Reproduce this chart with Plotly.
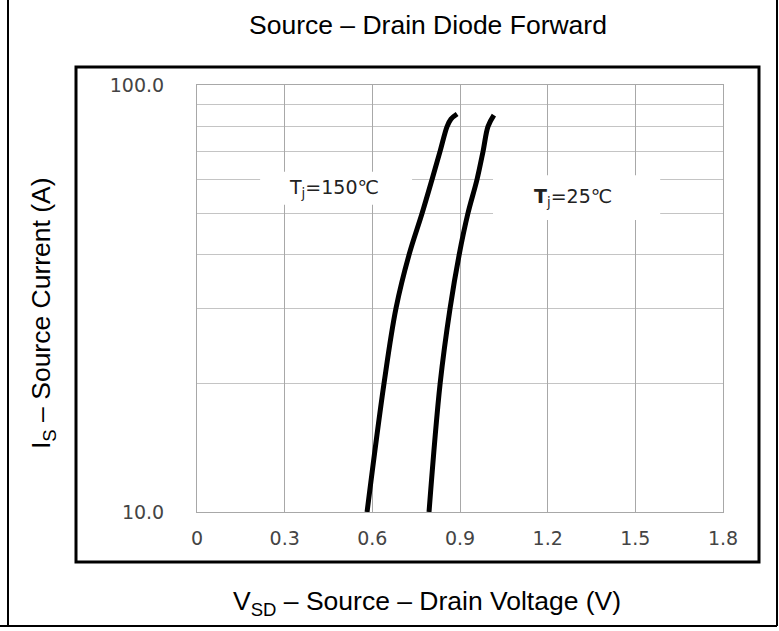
import math
import plotly.graph_objects as go

# ---- data ----
vsd_150 = [0.582, 0.640, 0.681, 0.7255, 0.770, 0.804, 0.832, 0.856, 0.869, 0.890]
is_150 = [10.0, 20.0, 30.0, 40.0, 50.0, 60.0, 70.0, 80.0, 83.2, 85.5]

vsd_25 = [0.794, 0.832, 0.866, 0.897, 0.927, 0.958, 0.979, 0.996, 1.016]
is_25 = [10.0, 20.0, 30.0, 40.0, 50.0, 60.0, 70.0, 80.0, 85.0]

x_ticks = [0, 0.3, 0.6, 0.9, 1.2, 1.5, 1.8]
x_tick_labels = ["0", "0.3", "0.6", "0.9", "1.2", "1.5", "1.8"]
y_ticks = [10, 100]
y_tick_labels = ["10.0", "100.0"]
y_minor_grid = [20, 30, 40, 50, 60, 70, 80, 90]

label_texts = ["T<sub>j</sub>=150℃", "<b>T</b><sub>j</sub>=25℃"]
label_x = [0.469, 1.287]
label_y = [57.1, 54.4]
# white boxes behind the labels: (x0, x1, y0, y1) in data units
label_boxes = [(0.216, 0.736, 52.4, 62.6), (1.013, 1.585, 48.3, 61.5)]

title_text = "Source – Drain Diode Forward"
x_title = "V<sub>SD</sub> – Source – Drain Voltage (V)"
y_title = "I<sub>S</sub> – Source Current (A)"

W, H = 779, 631
L, R, T, B = 197, 56, 85, 119
pw, ph = W - L - R, H - T - B


def px(xp):
    return (xp - L) / pw


def py(yp):
    return (H - B - yp) / ph


fig = go.Figure()
for xs, ys in [(vsd_150, is_150), (vsd_25, is_25)]:
    fig.add_trace(go.Scatter(x=xs, y=ys, mode="lines",
                             line=dict(color="black", width=5, shape="spline", smoothing=1.0),
                             showlegend=False, hoverinfo="skip"))

shapes = []
for (x0, x1, y0, y1) in label_boxes:
    shapes.append(dict(type="rect", xref="x", yref="y", x0=x0, x1=x1, y0=y0, y1=y1,
                       fillcolor="white", line=dict(width=0), layer="between"))
# inner thick frame
shapes.append(dict(type="rect", xref="paper", yref="paper",
                   x0=px(76), x1=px(759), y0=py(562), y1=py(67),
                   line=dict(color="black", width=3), fillcolor="rgba(0,0,0,0)", layer="above"))
# outer frame
shapes.append(dict(type="line", xref="paper", yref="paper", x0=px(8), x1=px(8), y0=py(626), y1=py(-2),
                   line=dict(color="black", width=2)))
shapes.append(dict(type="line", xref="paper", yref="paper", x0=px(777), x1=px(777), y0=py(626), y1=py(-2),
                   line=dict(color="black", width=2)))
shapes.append(dict(type="line", xref="paper", yref="paper", x0=px(0), x1=px(777), y0=py(626), y1=py(626),
                   line=dict(color="black", width=2)))

annotations = []
for t, x, y in zip(label_texts, label_x, label_y):
    annotations.append(dict(text=t, x=x, y=math.log10(y), xref="x", yref="y", showarrow=False,
                            xanchor="center", yanchor="middle",
                            font=dict(family="DejaVu Sans", size=19, color="#222")))
big = dict(family="Liberation Sans, Arial", size=26.5, color="black")
annotations.append(dict(text=title_text, xref="paper", yref="paper", x=px(428), y=py(25),
                        xanchor="center", yanchor="middle", showarrow=False, font=big))
annotations.append(dict(text=x_title, xref="paper", yref="paper", x=px(427), y=py(603),
                        xanchor="center", yanchor="middle", showarrow=False, font=big))
annotations.append(dict(text=y_title, xref="paper", yref="paper", x=px(43), y=py(313), textangle=-90,
                        xanchor="center", yanchor="middle", showarrow=False, font=big))

tickfont = dict(family="DejaVu Sans", size=19, color="#444")
fig.update_layout(
    width=W, height=H,
    margin=dict(l=L, r=R, t=T, b=B, pad=0),
    paper_bgcolor="white", plot_bgcolor="white",
    shapes=shapes, annotations=annotations,
    xaxis=dict(range=[0, 1.8], tickvals=x_ticks, ticktext=x_tick_labels,
               showgrid=True, gridcolor="#a8a8a8", gridwidth=1, zeroline=False,
               showline=True, linecolor="#a8a8a8", linewidth=1, mirror=True,
               ticks="", ticklabelstandoff=9, tickfont=tickfont),
    yaxis=dict(type="log", range=[1, 2], tickvals=y_ticks, ticktext=y_tick_labels,
               showgrid=True, gridcolor="#c4c4c4", gridwidth=1, zeroline=False,
               showline=True, linecolor="#a8a8a8", linewidth=1, mirror=True,
               minor=dict(tickvals=y_minor_grid, showgrid=True, gridcolor="#c4c4c4",
                          gridwidth=1, ticks=""),
               ticks="", ticklabelstandoff=28, tickfont=tickfont),
)

fig.write_html("out.html")
